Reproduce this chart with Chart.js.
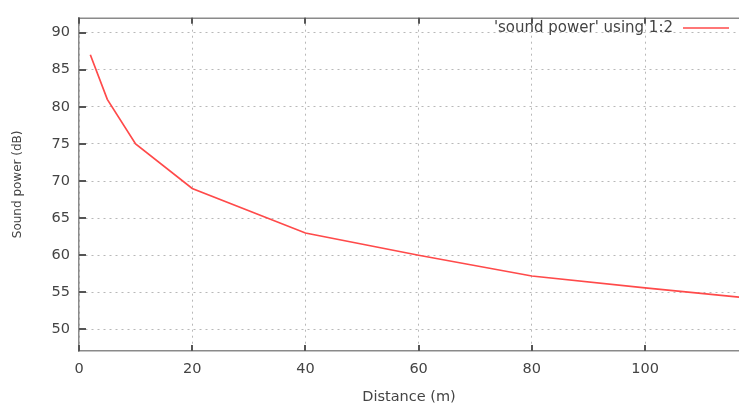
<!DOCTYPE html>
<html>
<head>
<meta charset="utf-8">
<script src="https://cdn.jsdelivr.net/npm/chart.js@4.4.1/dist/chart.umd.min.js"></script>
<style>
  html, body { margin: 0; padding: 0; background: #fff; }
  #wrap { width: 739px; height: 406px; position: relative; }
</style>
</head>
<body>
<div id="wrap"><canvas id="soundChart"></canvas></div>
<script>
// distance (m) and sound power (dB)
const distance = [2, 5, 10, 20, 40, 60, 80, 100, 120];
const soundPower = [87, 81, 75, 69, 63, 60, 57.2, 55.6, 54.1];
const xTicks = [0, 20, 40, 60, 80, 100];
const yTicks = [50, 55, 60, 65, 70, 75, 80, 85, 90];
const seriesLabel = "'sound power' using 1:2";

const textColor = '#444';
const fontFam = '"DejaVu Sans", Verdana, sans-serif';

// gnuplot-like frame: top border, inward tick marks, key in the top-right
const gnuplotFrame = {
  id: 'gnuplotFrame',
  afterDraw(chart) {
    const { ctx, chartArea: a, scales } = chart;
    ctx.save();
    ctx.strokeStyle = '#8a8a8a';
    ctx.lineWidth = 1.5;
    ctx.beginPath();
    ctx.moveTo(a.left, a.top + 0.5);
    ctx.lineTo(a.right, a.top + 0.5);
    ctx.stroke();

    ctx.strokeStyle = '#555';
    ctx.lineWidth = 2;
    yTicks.forEach(v => {
      const y = Math.round(scales.y.getPixelForValue(v));
      ctx.beginPath();
      ctx.moveTo(a.left, y);
      ctx.lineTo(a.left + 7, y);
      ctx.stroke();
    });
    xTicks.forEach(v => {
      const x = Math.round(scales.x.getPixelForValue(v));
      ctx.beginPath();
      ctx.moveTo(x, a.bottom);
      ctx.lineTo(x, a.bottom - 6);
      ctx.moveTo(x, a.top);
      ctx.lineTo(x, a.top + 6);
      ctx.stroke();
    });

    // key
    ctx.font = '15px ' + fontFam;
    ctx.fillStyle = textColor;
    ctx.textAlign = 'right';
    ctx.textBaseline = 'middle';
    ctx.fillText(seriesLabel, 673, 28);
    ctx.strokeStyle = '#ff4a4a';
    ctx.lineWidth = 1.5;
    ctx.beginPath();
    ctx.moveTo(683, 28);
    ctx.lineTo(729, 28);
    ctx.stroke();
    ctx.restore();
  }
};

const ctx = document.getElementById('soundChart');
new Chart(ctx, {
  type: 'line',
  data: {
    datasets: [{
      label: seriesLabel,
      data: distance.map((d, i) => ({ x: d, y: soundPower[i] })),
      borderColor: '#ff4a4a',
      borderWidth: 1.7,
      pointRadius: 0,
      fill: false,
      tension: 0
    }]
  },
  options: {
    responsive: true,
    maintainAspectRatio: false,
    animation: false,
    layout: { padding: { top: 13, right: 0, left: 0, bottom: 0 } },
    plugins: { legend: { display: false }, tooltip: { enabled: false } },
    scales: {
      x: {
        type: 'linear',
        min: 0,
        max: 116.6,
        afterBuildTicks: s => { s.ticks = xTicks.map(v => ({ value: v })); },
        afterFit: s => { s.height = 55; },
        grid: { color: '#b8b8b8', drawTicks: false, lineWidth: 1 },
        border: { color: '#8a8a8a', width: 1.5, dash: [2, 4] },
        ticks: { color: textColor, font: { family: fontFam, size: 14.5 }, padding: 10, maxRotation: 0 },
        title: { display: true, text: 'Distance (m)', color: textColor, font: { family: fontFam, size: 14.5 }, padding: { top: 3, bottom: 0 } }
      },
      y: {
        min: 47.1,
        max: 92,
        afterBuildTicks: s => { s.ticks = yTicks.map(v => ({ value: v })); },
        afterFit: s => { s.width = 79; },
        grid: { color: '#b8b8b8', drawTicks: false, lineWidth: 1 },
        border: { color: '#8a8a8a', width: 1.5, dash: [2, 4] },
        ticks: { color: textColor, font: { family: fontFam, size: 14.5 }, padding: 9 },
        title: { display: true, text: 'Sound power (dB)', color: textColor, font: { family: fontFam, size: 12 }, padding: { top: 11, bottom: 0 } }
      }
    }
  },
  plugins: [gnuplotFrame]
});
</script>
</body>
</html>
